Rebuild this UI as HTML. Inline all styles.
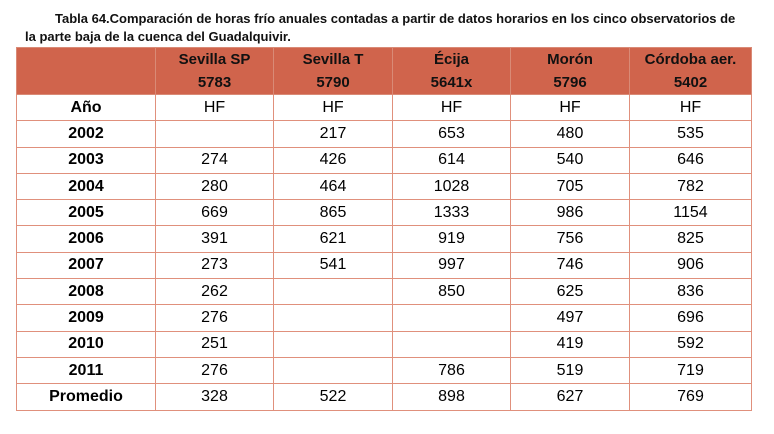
<!DOCTYPE html>
<html><head><meta charset="utf-8"><style>
body{margin:0;width:774px;height:434px;background:#fff;font-family:"Liberation Sans",Arial,sans-serif;overflow:hidden;position:relative}
.t{position:absolute;font-weight:bold;font-size:13px;color:#111;white-space:nowrap}
table{position:absolute;left:16px;top:47px;border-collapse:collapse;table-layout:fixed}
td{border:1.5px solid #e0907c;height:25.3px;padding:0;text-align:center;font-size:16px;color:#000}
tr.h td{background:#d0644c;height:46px;font-weight:bold;font-size:15px;line-height:23px;color:#111;border-color:#d98a76}
td.y{font-weight:bold}
</style></head><body>
<div class="t" style="left:55px;top:11px">Tabla 64.Comparación de horas frío anuales contadas a partir de datos horarios en los cinco observatorios de</div>
<div class="t" style="left:25px;top:29px">la parte baja de la cuenca del Guadalquivir.</div>
<table>
<colgroup><col style="width:139px"><col style="width:118px"><col style="width:119px"><col style="width:118px"><col style="width:119px"><col style="width:122px"></colgroup>
<tr class="h"><td></td><td>Sevilla SP<br>5783</td><td>Sevilla T<br>5790</td><td>Écija<br>5641x</td><td>Morón<br>5796</td><td>Córdoba aer.<br>5402</td></tr>
<tr><td class="y">Año</td><td>HF</td><td>HF</td><td>HF</td><td>HF</td><td>HF</td></tr>
<tr><td class="y">2002</td><td></td><td>217</td><td>653</td><td>480</td><td>535</td></tr>
<tr><td class="y">2003</td><td>274</td><td>426</td><td>614</td><td>540</td><td>646</td></tr>
<tr><td class="y">2004</td><td>280</td><td>464</td><td>1028</td><td>705</td><td>782</td></tr>
<tr><td class="y">2005</td><td>669</td><td>865</td><td>1333</td><td>986</td><td>1154</td></tr>
<tr><td class="y">2006</td><td>391</td><td>621</td><td>919</td><td>756</td><td>825</td></tr>
<tr><td class="y">2007</td><td>273</td><td>541</td><td>997</td><td>746</td><td>906</td></tr>
<tr><td class="y">2008</td><td>262</td><td></td><td>850</td><td>625</td><td>836</td></tr>
<tr><td class="y">2009</td><td>276</td><td></td><td></td><td>497</td><td>696</td></tr>
<tr><td class="y">2010</td><td>251</td><td></td><td></td><td>419</td><td>592</td></tr>
<tr><td class="y">2011</td><td>276</td><td></td><td>786</td><td>519</td><td>719</td></tr>
<tr><td class="y">Promedio</td><td>328</td><td>522</td><td>898</td><td>627</td><td>769</td></tr>
</table>
</body></html>
